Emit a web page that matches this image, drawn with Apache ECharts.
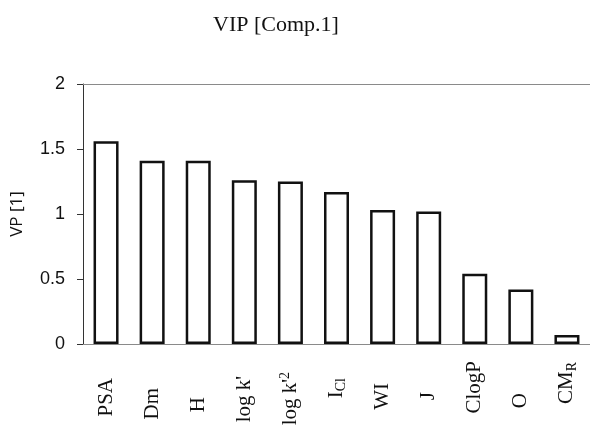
<!DOCTYPE html>
<html>
<head>
<meta charset="utf-8">
<script src="https://cdn.jsdelivr.net/npm/echarts@6/dist/echarts.min.js"></script>
<style>
  html, body { margin: 0; padding: 0; background: #ffffff; }
  #chart { width: 590px; height: 428px; }
</style>
</head>
<body>
<div id="chart"></div>
<script>
// Variable importance in projection, first component
const categories = ['PSA', 'Dm', 'H', "log k'", "log k'2", 'ICl', 'WI', 'J', 'ClogP', 'O', 'CMR'];
// Rich-text versions of the category names (sub/superscripts)
const categoryLabels = ['PSA', 'Dm', 'H', "log k'", "log k'{sup|2}", 'I{sub|Cl}', 'WI', 'J', 'ClogP', 'O', 'CM{sub|R}'];
const vipValues = [1.56, 1.41, 1.41, 1.26, 1.25, 1.17, 1.03, 1.02, 0.54, 0.42, 0.07];
const yTicks = [0, 0.5, 1, 1.5, 2];

// Extra drop of each rotated label below the common label line (px)
const labelDrop = [17, 27, 36, 15, 11, 17, 22, 31, 0, 32, 1];

const chart = echarts.init(document.getElementById('chart'), null, { renderer: 'canvas' });

const serif = '"Liberation Serif", "Times New Roman", serif';
const sans = '"Liberation Sans", Arial, sans-serif';

const xData = categories.map((name, i) => ({
  value: name,
  textStyle: { padding: [0, labelDrop[i], 0, 0] }
}));

chart.setOption({
  animation: false,
  backgroundColor: '#ffffff',
  title: {
    text: 'VIP [Comp.1]',
    left: 271,
    top: 9,
    textAlign: 'center',
    textStyle: { fontFamily: serif, fontSize: 22, fontWeight: 'normal', color: '#111' }
  },
  grid: { left: 83, right: 0, top: 84, bottom: 84, containLabel: false, outerBoundsMode: 'none' },
  xAxis: [
    {
      type: 'category',
      data: xData,
      position: 'bottom',
      axisLine: { show: true, lineStyle: { color: '#8a8a8a', width: 1 } },
      axisTick: { show: false },
      axisLabel: {
        rotate: 90,
        margin: 17,
        interval: 0,
        fontFamily: serif,
        fontSize: 21,
        color: '#111',
        formatter: (value, idx) => categoryLabels[idx],
        rich: {
          sub: { fontFamily: serif, fontSize: 14, color: '#111', verticalAlign: 'bottom', lineHeight: 24 },
          sup: { fontFamily: serif, fontSize: 14, color: '#111', verticalAlign: 'top', lineHeight: 24 }
        }
      }
    },
    {
      // top frame line of the plot area
      type: 'category',
      data: categories,
      position: 'top',
      axisLine: { show: true, lineStyle: { color: '#8a8a8a', width: 1 } },
      axisTick: { show: false },
      axisLabel: { show: false }
    }
  ],
  yAxis: {
    type: 'value',
    min: yTicks[0],
    max: yTicks[yTicks.length - 1],
    interval: 0.5,
    name: 'VP [1]',
    nameLocation: 'middle',
    nameGap: 57,
    nameRotate: 90,
    nameTextStyle: { fontFamily: '"Open Sans", "Noto Sans", sans-serif', fontSize: 17, color: '#111' },
    axisLine: { show: true, lineStyle: { color: '#333', width: 1 } },
    axisTick: { show: true, inside: false, length: 6, lineStyle: { color: '#333' } },
    splitLine: { show: false },
    axisLabel: {
      margin: 18,
      fontFamily: sans,
      fontSize: 18,
      color: '#111',
      formatter: (v) => String(v)
    }
  },
  series: [
    {
      type: 'bar',
      xAxisIndex: 0,
      data: vipValues,
      barWidth: 25,
      itemStyle: { color: '#ffffff', borderColor: '#111', borderWidth: 2.5 }
    }
  ]
});
</script>
</body>
</html>
